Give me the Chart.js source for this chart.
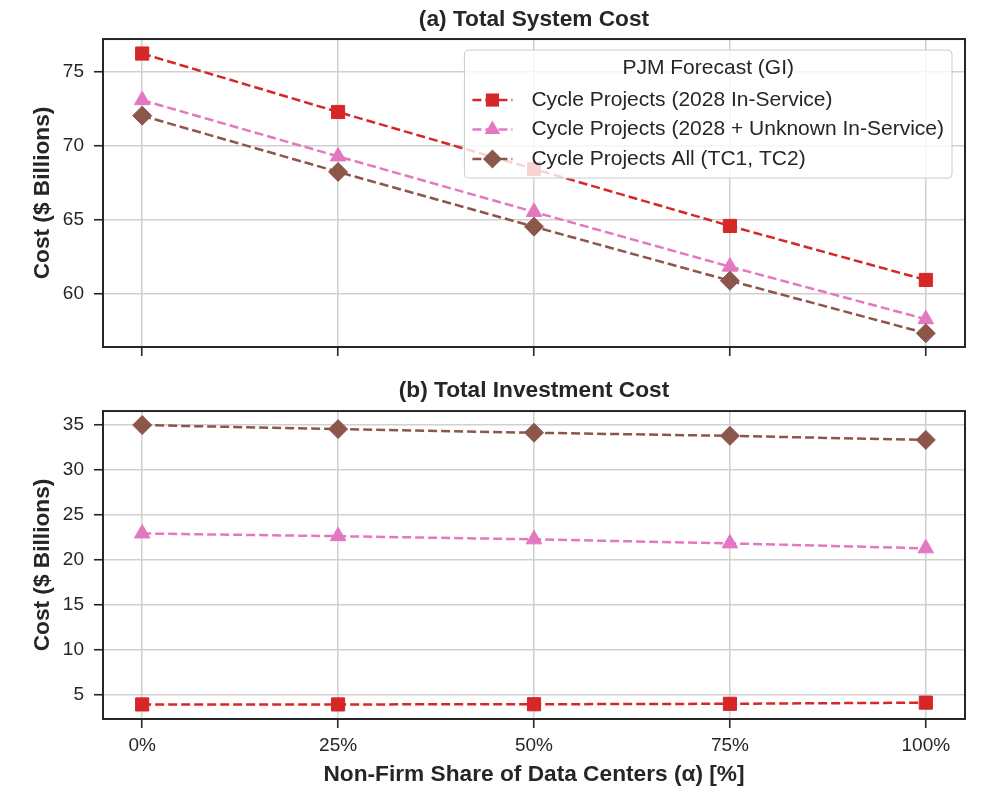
<!DOCTYPE html>
<html>
<head>
<meta charset="utf-8">
<script src="https://cdn.jsdelivr.net/npm/chart.js@4.4.1/dist/chart.umd.min.js"></script>
<style>
  html, body { margin: 0; padding: 0; background: #fff; }
  #wrap { position: relative; width: 993px; height: 811px; }
  canvas { position: absolute; left: 0; }
</style>
</head>
<body>
<div id="wrap">
  <canvas id="chart-system" width="993" height="370" style="top:0"></canvas>
  <canvas id="chart-invest" width="993" height="441" style="top:370px"></canvas>
</div>
<script>
// x: non-firm share of data centers (%)
const alphaPct = [0, 25, 50, 75, 100];

const seriesNames = [
  'Cycle Projects (2028 In-Service)',
  'Cycle Projects (2028 + Unknown In-Service)',
  'Cycle Projects All (TC1, TC2)'
];
const legendTitle = 'PJM Forecast (GI)';

// (a) total system cost, $ billions
const sysCost2028 = [76.25, 72.3, 68.45, 64.6, 60.95];
const sysCost2028Unknown = [73.1, 69.3, 65.55, 61.85, 58.3];
const sysCostAll = [72.05, 68.25, 64.55, 60.9, 57.35];

// (b) total investment cost, $ billions
const invCost2028 = [3.95, 3.95, 3.97, 4.02, 4.15];
const invCost2028Unknown = [22.95, 22.65, 22.3, 21.85, 21.3];
const invCostAll = [35.0, 34.55, 34.15, 33.8, 33.35];

const sysTicks = [60, 65, 70, 75];
const invTicks = [5, 10, 15, 20, 25, 30, 35];

const FONT = '"Liberation Sans", Arial, Helvetica, sans-serif';
const INK = '#262626';
const GRID = '#d0d0d0';
const COLORS = ['#d62728', '#e377c2', '#8c564b'];
const STYLES = ['rect', 'triangle', 'rectRot'];
const RADII = [9.3, 9, 9.5];

function makeDatasets(valueLists) {
  return valueLists.map((vals, i) => ({
    label: seriesNames[i],
    data: alphaPct.map((a, j) => ({ x: a, y: vals[j] })),
    borderColor: COLORS[i],
    backgroundColor: COLORS[i],
    pointBackgroundColor: COLORS[i],
    pointBorderColor: COLORS[i],
    pointBorderWidth: 1,
    pointStyle: STYLES[i],
    pointRadius: RADII[i],
    borderWidth: 2.5,
    borderDash: [9, 4],
    tension: 0,
    order: 3 - i
  }));
}

function drawMarker(ctx, style, r, x, y) {
  ctx.beginPath();
  if (style === 'rect') {
    const s = r * Math.SQRT1_2;
    ctx.rect(x - s, y - s, 2 * s, 2 * s);
  } else if (style === 'triangle') {
    ctx.moveTo(x, y - r);
    ctx.lineTo(x + r * Math.sin(Math.PI / 3), y + r / 2);
    ctx.lineTo(x - r * Math.sin(Math.PI / 3), y + r / 2);
    ctx.closePath();
  } else {
    ctx.moveTo(x - r, y);
    ctx.lineTo(x, y - r);
    ctx.lineTo(x + r, y);
    ctx.lineTo(x, y + r);
    ctx.closePath();
  }
  ctx.fill();
}

// black frame all round the plot area
const framePlugin = {
  id: 'frame',
  afterDatasetsDraw(chart) {
    const { ctx, chartArea: a } = chart;
    ctx.save();
    ctx.strokeStyle = INK;
    ctx.lineWidth = 2;
    ctx.strokeRect(a.left, a.top, a.right - a.left, a.bottom - a.top);
    ctx.restore();
  }
};

// matplotlib-like legend box drawn over the lines
const boxLegendPlugin = {
  id: 'boxLegend',
  afterDraw(chart, args, opts) {
    if (!opts.show) return;
    const { ctx, chartArea: a } = chart;
    ctx.save();
    ctx.font = '21px ' + FONT;
    const textW = Math.max(...seriesNames.map(n => ctx.measureText(n).width));
    const w = 8 + 40 + 19 + textW + 8;
    const h = 128;
    const x0 = a.right - 13 - w;
    const y0 = a.top + 11;

    ctx.beginPath();
    ctx.roundRect(x0, y0, w, h, 4);
    ctx.fillStyle = 'rgba(255,255,255,0.8)';
    ctx.fill();
    ctx.strokeStyle = '#cccccc';
    ctx.lineWidth = 1;
    ctx.stroke();

    ctx.fillStyle = INK;
    ctx.textAlign = 'center';
    ctx.textBaseline = 'middle';
    ctx.fillText(legendTitle, x0 + w / 2, y0 + 18.5);

    ctx.textAlign = 'left';
    chart.data.datasets.forEach((ds, i) => {
      const y = y0 + 50 + i * 29.5;
      ctx.setLineDash(ds.borderDash);
      ctx.strokeStyle = ds.borderColor;
      ctx.lineWidth = ds.borderWidth;
      ctx.beginPath();
      ctx.moveTo(x0 + 8, y);
      ctx.lineTo(x0 + 48, y);
      ctx.stroke();
      ctx.setLineDash([]);
      ctx.fillStyle = ds.borderColor;
      drawMarker(ctx, ds.pointStyle, ds.pointRadius, x0 + 28, y);
      ctx.fillStyle = INK;
      ctx.fillText(ds.label, x0 + 67, y);
    });
    ctx.restore();
  }
};

function makeChart(canvasId, cfg) {
  const canvas = document.getElementById(canvasId);
  return new Chart(canvas, {
    type: 'line',
    data: { datasets: makeDatasets(cfg.series) },
    options: {
      responsive: false,
      animation: false,
      layout: { padding: { left: 0, right: 28, top: 0, bottom: 0 } },
      plugins: {
        legend: { display: false },
        tooltip: { enabled: false },
        title: {
          display: true,
          text: cfg.title,
          fullSize: false,
          color: INK,
          font: { family: FONT, size: 22.7, weight: 'bold' },
          padding: cfg.titlePad
        },
        boxLegend: { show: cfg.legend }
      },
      scales: {
        x: {
          type: 'linear',
          min: -5,
          max: 105,
          afterBuildTicks: s => { s.ticks = alphaPct.map(v => ({ value: v })); },
          afterFit: s => { s.height = cfg.xAxisHeight; },
          grid: { color: GRID, lineWidth: 1.5, tickColor: INK, tickWidth: 1.6, tickLength: 9 },
          border: { display: false },
          ticks: {
            display: cfg.showX,
            color: INK,
            padding: 6,
            font: { family: FONT, size: 19 },
            callback: v => v + '%'
          },
          title: {
            display: cfg.showX,
            text: 'Non-Firm Share of Data Centers (\u03b1) [%]',
            color: INK,
            font: { family: FONT, size: 22.7, weight: 'bold' },
            padding: { top: 0, bottom: 23 }
          }
        },
        y: {
          min: cfg.yMin,
          max: cfg.yMax,
          afterBuildTicks: s => { s.ticks = cfg.yTicks.map(v => ({ value: v })); },
          afterFit: s => { s.width = 103; },
          grid: { color: GRID, lineWidth: 1.5, tickColor: INK, tickWidth: 1.6, tickLength: 9 },
          border: { display: false },
          ticks: { color: INK, padding: 10, font: { family: FONT, size: 19 } },
          title: {
            display: true,
            text: 'Cost ($ Billions)',
            color: INK,
            font: { family: FONT, size: 22.7, weight: 'bold' },
            padding: { top: 29.4, bottom: 0 }
          }
        }
      }
    },
    plugins: [framePlugin, boxLegendPlugin]
  });
}

makeChart('chart-system', {
  title: '(a) Total System Cost',
  titlePad: { top: 6.4, bottom: 5.4 },
  series: [sysCost2028, sysCost2028Unknown, sysCostAll],
  yMin: 56.42, yMax: 77.23, yTicks: sysTicks,
  xAxisHeight: 23,
  showX: false,
  legend: true
});

makeChart('chart-invest', {
  title: '(b) Total Investment Cost',
  titlePad: { top: 7.4, bottom: 6.4 },
  series: [invCost2028, invCost2028Unknown, invCostAll],
  yMin: 2.33, yMax: 36.56, yTicks: invTicks,
  xAxisHeight: 92,
  showX: true,
  legend: false
});
</script>
</body>
</html>
